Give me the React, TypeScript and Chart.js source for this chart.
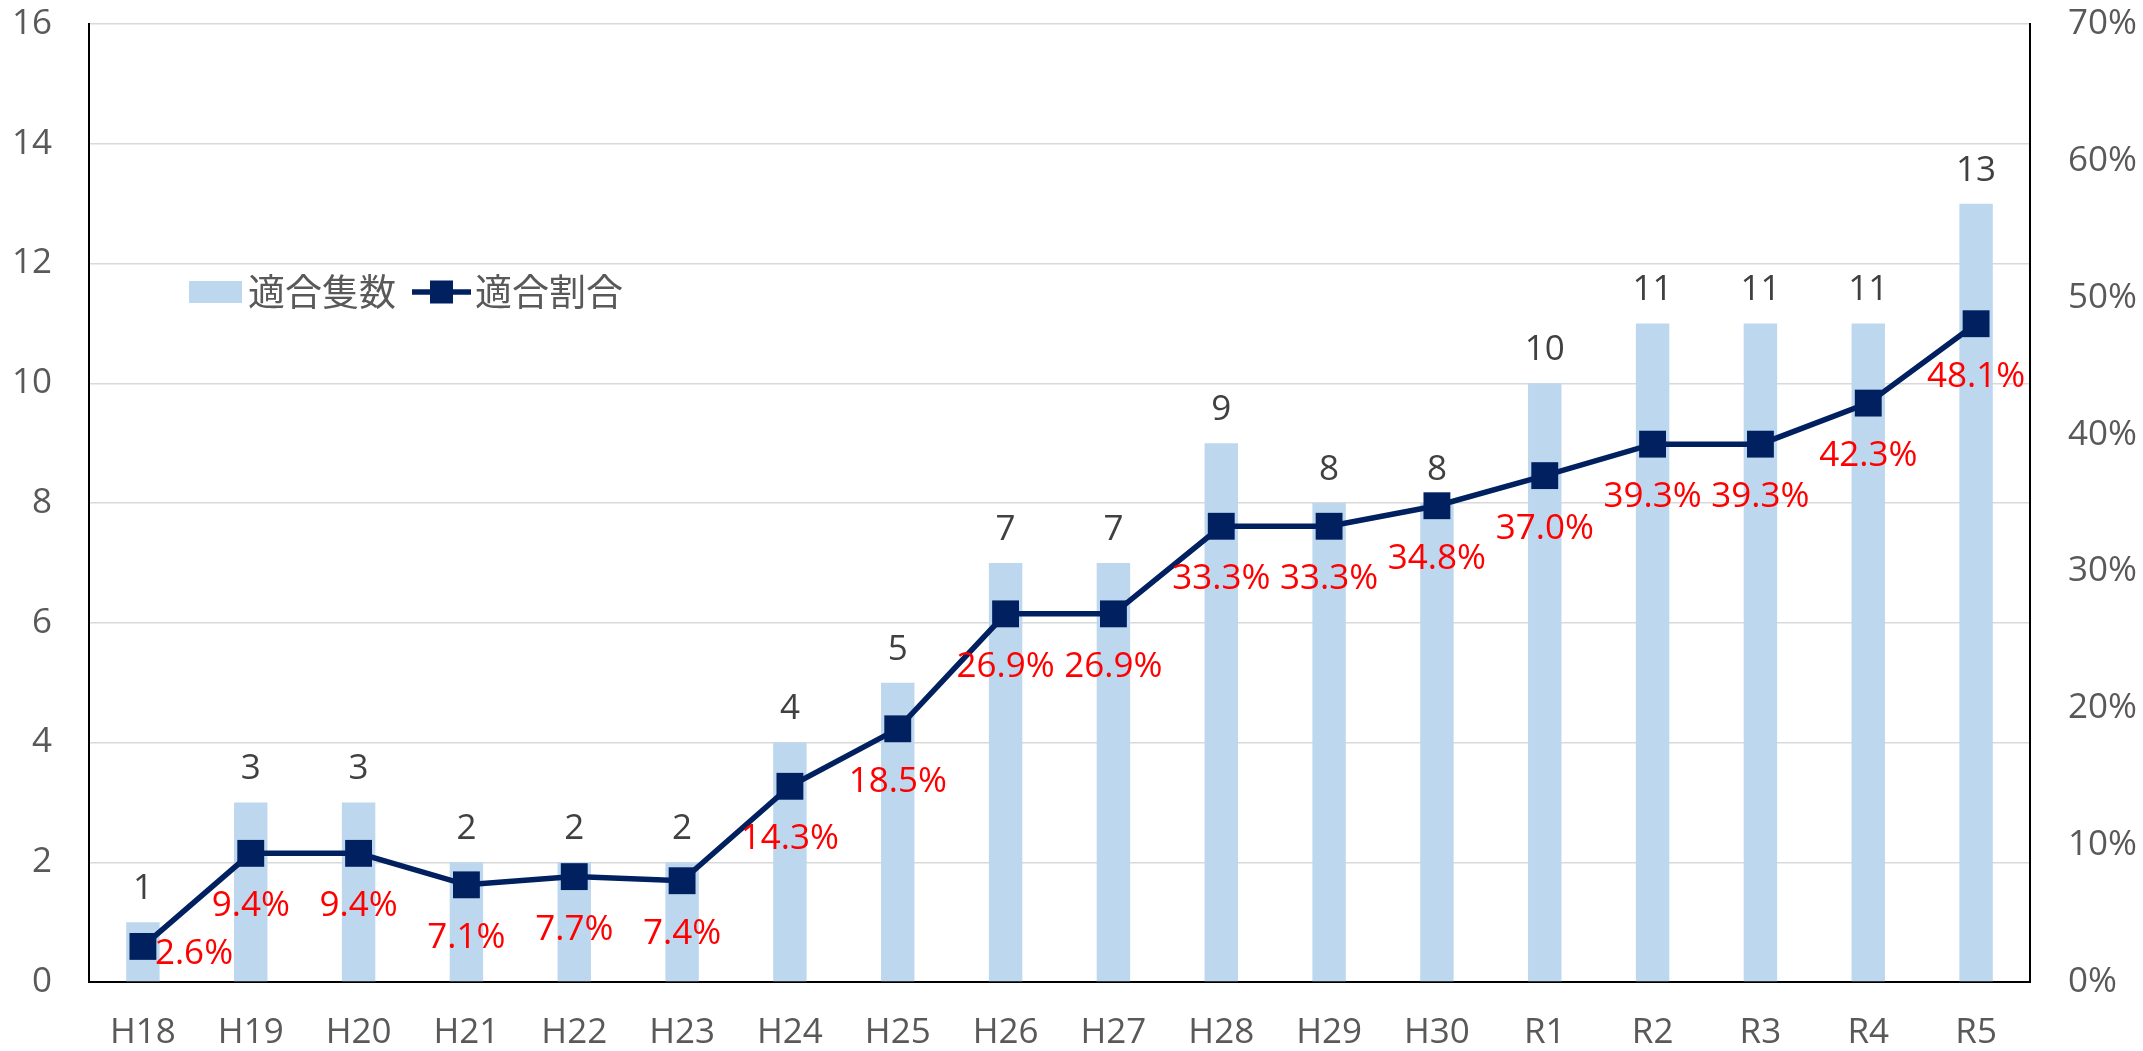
import React, { useEffect, useRef } from "react";
import { Chart, registerables } from "chart.js";

Chart.register(...registerables);

const categories = ["H18", "H19", "H20", "H21", "H22", "H23", "H24", "H25", "H26", "H27", "H28", "H29", "H30", "R1", "R2", "R3", "R4", "R5"];
const vesselCounts = [1, 3, 3, 2, 2, 2, 4, 5, 7, 7, 9, 8, 8, 10, 11, 11, 11, 13];
const compliantRates = [0.026, 0.094, 0.094, 0.071, 0.077, 0.074, 0.143, 0.185, 0.269, 0.269, 0.333, 0.333, 0.348, 0.37, 0.393, 0.393, 0.423, 0.481];
const countLabel = "適合隻数";
const rateLabel = "適合割合";
const countAxisMax = 16;
const countAxisStep = 2;
const rateAxisMax = 0.7;
const rateAxisStep = 0.1;

const BAR_COLOR = "#BDD7EE";
const LINE_COLOR = "#002060";
const TICK_COLOR = "#595959";
const FONT = "'Open Sans', 'Noto Sans CJK JP', sans-serif";
const CJK_FONT = "'Noto Sans CJK JP', 'Open Sans', sans-serif";
const FS = 35;

const labelPlugin = {
  id: "customLabels",
  afterDatasetsDraw(chart: any) {
    const ctx = chart.ctx;
    ctx.save();
    const barMeta = chart.getDatasetMeta(0);
    ctx.font = `${FS}px ${FONT}`;
    ctx.fillStyle = "#404040";
    ctx.textAlign = "center";
    ctx.textBaseline = "middle";
    barMeta.data.forEach((el: any, i: number) => {
      ctx.fillText(String(vesselCounts[i]), el.x, el.y - 33);
    });
    const lineMeta = chart.getDatasetMeta(1);
    ctx.fillStyle = "#FF0000";
    lineMeta.data.forEach((el: any, i: number) => {
      const txt = (compliantRates[i] * 100).toFixed(1) + "%";
      if (i === 0) {
        ctx.textAlign = "left";
        ctx.fillText(txt, el.x + 12, el.y + 8);
      } else {
        ctx.textAlign = "center";
        ctx.fillText(txt, el.x, el.y + 53);
      }
    });
    ctx.restore();
  },
  afterDraw(chart: any) {
    const ctx = chart.ctx;
    const area = chart.chartArea;
    ctx.save();
    const cy = area.top + 268;
    let x = area.left + 100;
    ctx.font = `37px ${CJK_FONT}`;
    ctx.textBaseline = "middle";
    ctx.textAlign = "left";
    ctx.fillStyle = BAR_COLOR;
    ctx.fillRect(x, cy - 11, 53, 22);
    x += 59;
    ctx.fillStyle = TICK_COLOR;
    ctx.fillText(countLabel, x, cy);
    x += ctx.measureText(countLabel).width + 16;
    ctx.strokeStyle = LINE_COLOR;
    ctx.lineWidth = 5.5;
    ctx.beginPath();
    ctx.moveTo(x, cy);
    ctx.lineTo(x + 59, cy);
    ctx.stroke();
    ctx.fillStyle = LINE_COLOR;
    ctx.fillRect(x + 29.5 - 11.5, cy - 11.5, 23, 23);
    x += 63;
    ctx.fillStyle = TICK_COLOR;
    ctx.fillText(rateLabel, x, cy);
    ctx.restore();
  },
};

export default function App() {
  const canvasRef = useRef<HTMLCanvasElement | null>(null);

  useEffect(() => {
    document.body.style.margin = "0";
    const canvas = canvasRef.current;
    if (!canvas) return;
    const chart = new Chart(canvas, {
      type: "bar",
      data: {
        labels: categories,
        datasets: [
          {
            type: "bar",
            label: countLabel,
            data: vesselCounts,
            backgroundColor: BAR_COLOR,
            borderWidth: 0,
            yAxisID: "y",
            order: 1,
            barPercentage: 0.31,
            categoryPercentage: 1,
          },
          {
            type: "line",
            label: rateLabel,
            data: compliantRates,
            borderColor: LINE_COLOR,
            backgroundColor: LINE_COLOR,
            borderWidth: 5.5,
            pointStyle: "rect",
            pointRadius: 19,
            pointBorderWidth: 0,
            pointBackgroundColor: LINE_COLOR,
            tension: 0,
            yAxisID: "y1",
            order: 0,
          } as any,
        ],
      },
      options: {
        responsive: false,
        animation: false,
        layout: { padding: { top: 24, left: 0, right: 0, bottom: 0 } },
        plugins: {
          legend: { display: false },
          tooltip: { enabled: false },
        },
        scales: {
          x: {
            grid: { display: false, drawTicks: false },
            border: { display: true, color: "#000000", width: 2 },
            ticks: { color: TICK_COLOR, font: { size: FS, family: FONT }, padding: 30, maxRotation: 0, autoSkip: false },
            afterFit: (s: any) => { s.height = 69; s.paddingLeft = 0; s.paddingRight = 0; },
          },
          y: {
            position: "left",
            min: 0,
            max: countAxisMax,
            grid: { color: "#D9D9D9", lineWidth: 1.5, drawTicks: false },
            border: { display: true, color: "#000000", width: 2 },
            ticks: { stepSize: countAxisStep, color: TICK_COLOR, font: { size: FS, family: FONT }, padding: 37 },
            afterFit: (s: any) => { s.width = 89; s.paddingTop = 0; s.paddingBottom = 0; },
          },
          y1: {
            position: "right",
            min: 0,
            max: rateAxisMax,
            grid: { display: false, drawTicks: false },
            border: { display: true, color: "#000000", width: 2 },
            ticks: {
              stepSize: rateAxisStep,
              color: TICK_COLOR,
              font: { size: FS, family: FONT },
              padding: 38,
              callback: (v: any) => Math.round(Number(v) * 100) + "%",
            },
            afterFit: (s: any) => { s.width = 113; s.paddingTop = 0; s.paddingBottom = 0; },
          },
        },
      },
      plugins: [labelPlugin],
    });
    return () => chart.destroy();
  }, []);

  return (
    <div style={{ width: 2143, height: 1051 }}>
      <canvas ref={canvasRef} width={2143} height={1051} style={{ display: "block" }} />
    </div>
  );
}
